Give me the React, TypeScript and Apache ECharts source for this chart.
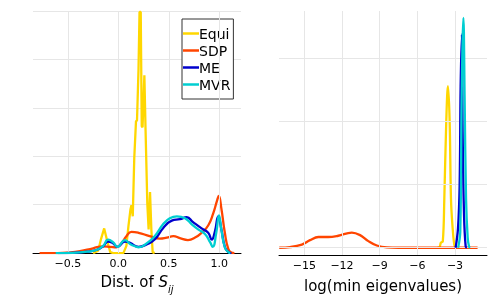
import React, { useEffect, useRef } from "react";
import * as echarts from "echarts";

// ---- Left panel: distribution of S_ij ----
const equiLX = [-0.25, -0.2, -0.17, -0.14, -0.11, -0.08, -0.05, 0.05, 0.08, 0.1, 0.12, 0.13, 0.143, 0.158, 0.175, 0.185, 0.2, 0.21, 0.222, 0.232, 0.24, 0.258, 0.27, 0.287, 0.3, 0.314, 0.327, 0.34, 0.36];
const equiLY = [0, 0.05, 0.3, 0.51, 0.25, 0.02, 0, 0, 0.15, 0.55, 0.9, 0.99, 0.76, 1.97, 2.72, 2.74, 3.8, 4.98, 4.98, 2.62, 2.6, 3.67, 2.52, 1.03, 0.49, 1.26, 0.49, 0.02, 0];
const sdpLX = [-0.78, -0.6, -0.5, -0.38, -0.25, -0.15, -0.08, -0.02, 0.03, 0.08, 0.13, 0.2, 0.31, 0.41, 0.48, 0.545, 0.61, 0.69, 0.76, 0.825, 0.89, 0.94, 0.98, 0.995, 1.02, 1.055, 1.09, 1.12, 1.15];
const sdpLY = [0, 0, 0.01, 0.04, 0.1, 0.14, 0.13, 0.12, 0.2, 0.35, 0.44, 0.42, 0.35, 0.3, 0.32, 0.35, 0.31, 0.27, 0.32, 0.42, 0.57, 0.82, 1.1, 1.18, 0.93, 0.42, 0.08, 0.01, 0];
const meLX = [-0.6, -0.45, -0.3, -0.21, -0.15, -0.1, -0.05, -0.01, 0.066, 0.116, 0.2, 0.28, 0.36, 0.445, 0.53, 0.61, 0.677, 0.74, 0.825, 0.89, 0.925, 0.957, 0.99, 1.02, 1.056, 1.09, 1.12];
const meLY = [0, 0.005, 0.03, 0.07, 0.14, 0.24, 0.2, 0.13, 0.24, 0.21, 0.13, 0.18, 0.28, 0.52, 0.67, 0.7, 0.74, 0.64, 0.51, 0.42, 0.28, 0.45, 0.76, 0.5, 0.12, 0.02, 0];
const mvrLX = [-0.62, -0.45, -0.3, -0.21, -0.15, -0.1, -0.05, -0.01, 0.066, 0.116, 0.18, 0.2, 0.28, 0.36, 0.445, 0.51, 0.58, 0.66, 0.73, 0.79, 0.86, 0.91, 0.935, 0.97, 0.997, 1.02, 1.056, 1.09, 1.11];
const mvrLY = [0, 0.005, 0.03, 0.07, 0.15, 0.28, 0.22, 0.13, 0.27, 0.19, 0.13, 0.12, 0.2, 0.35, 0.6, 0.72, 0.76, 0.72, 0.59, 0.49, 0.39, 0.22, 0.13, 0.42, 0.78, 0.49, 0.11, 0.02, 0];

// ---- Right panel: log(min eigenvalues) ----
const sdpRX = [-17.0, -16.14, -15.2, -14.55, -13.88, -13.1, -12.3, -11.22, -10.56, -9.9, -9.23, -8.43, -7.5, -1.2];
const sdpRY = [0, 0.01, 0.05, 0.12, 0.17, 0.17, 0.19, 0.24, 0.2, 0.105, 0.036, 0.005, 0, 0];
const equiRX = [-4.4, -4.23, -4.12, -3.97, -3.85, -3.69, -3.56, -3.43, -3.32, -3.21, -3.06, -2.95];
const equiRY = [0, 0.01, 0.08, 0.1, 0.78, 2.04, 2.56, 2.04, 0.78, 0.37, 0.05, 0];
const meRX = [-2.95, -2.76, -2.63, -2.55, -2.45, -2.39, -2.28, -2.15, -2.05];
const meRY = [0, 0.31, 0.99, 2.56, 3.38, 1.83, 0.52, 0.02, 0];
const mvrRX = [-2.75, -2.58, -2.47, -2.33, -2.23, -2.12, -1.99, -1.88, -1.8];
const mvrRY = [0, 0.25, 2.35, 3.64, 2.35, 0.78, 0.16, 0.02, 0];

const seriesNames = ["Equi", "SDP", "ME", "MVR"];
const seriesColors = ["#FFD700", "#FF4500", "#0000CD", "#00CED1"];
const leftTicks = [-0.5, 0, 0.5, 1.0];
const rightTicks = [-15, -12, -9, -6, -3];
const rightHGrid = [0, 1, 2, 3];

const zip = (xs: number[], ys: number[]) => xs.map((x, i) => [x, ys[i]]);
const FONT = "DejaVu Sans";
const GRIDC = "#e6e6e6";

const fmtL = (v: number) => (v < 0 ? "\u2212" : "") + Math.abs(v).toFixed(1);
const fmtR = (v: number) => (v < 0 ? "\u2212" : "") + Math.abs(v);

export default function App() {
  const ref = useRef<HTMLDivElement>(null);
  useEffect(() => {
    if (!ref.current) return;
    const chart = echarts.init(ref.current, null, { renderer: "svg" });
    const leftData = [zip(equiLX, equiLY), zip(sdpLX, sdpLY), zip(meLX, meLY), zip(mvrLX, mvrLY)];
    const rightData = [zip(equiRX, equiRY), zip(sdpRX, sdpRY), zip(meRX, meRY), zip(mvrRX, mvrRY)];
    const mk = (data: number[][], i: number, panel: number, smooth: any) => ({
      name: seriesNames[i],
      type: "line",
      xAxisIndex: panel,
      yAxisIndex: panel,
      data,
      showSymbol: false,
      symbol: "none",
      smooth,
      z: 3 + i,
      color: seriesColors[i],
      itemStyle: { color: seriesColors[i] },
      lineStyle: { color: seriesColors[i], width: 2.3 },
    });
    const xAxisCommon = (ticks: number[], fmt: (v: number) => string) => ({
      type: "value",
      axisLine: { show: true, onZero: false, lineStyle: { color: "#000", width: 1 } },
      axisTick: { show: true, inside: true, length: 5, customValues: ticks, lineStyle: { color: "#000", width: 1 } },
      axisLabel: { customValues: ticks, formatter: fmt, fontSize: 11, color: "#000", margin: 5, fontFamily: FONT },
      splitLine: { show: false },
      nameLocation: "middle",
    });
    const option: any = {
      animation: false,
      textStyle: { fontFamily: FONT },
      grid: [
        { left: 33, top: 11, width: 208, height: 246, containLabel: false },
        { left: 279, top: 11, width: 208, height: 246, containLabel: false },
      ],
      legend: {
        data: seriesNames,
        orient: "vertical",
        left: 182,
        top: 19,
        padding: [6, 3, 6, 1],
        itemGap: 0,
        itemWidth: 16,
        itemHeight: 2.5,
        icon: "rect",
        backgroundColor: "#fff",
        borderColor: "#333",
        borderWidth: 1,
        borderRadius: 0,
        textStyle: { fontSize: 14, color: "#000", fontFamily: FONT, lineHeight: 17, padding: [0, 0, 0, -5] },
      },
      xAxis: [
        {
          ...xAxisCommon(leftTicks, fmtL),
          gridIndex: 0,
          min: -0.845,
          max: 1.215,
          name: "{a|Dist. of }{s|S}{sub|ij}",
          nameGap: 14,
          nameTextStyle: {
            rich: {
              a: { fontSize: 15, fontFamily: FONT, color: "#000", lineHeight: 20, verticalAlign: "top" },
              s: { fontSize: 15, fontFamily: FONT, fontStyle: "italic", color: "#000", lineHeight: 20, verticalAlign: "top" },
              sub: { fontSize: 10, fontFamily: FONT, fontStyle: "italic", color: "#000", lineHeight: 8, verticalAlign: "bottom" },
            },
          },
        },
        {
          ...xAxisCommon(rightTicks, fmtR),
          gridIndex: 1,
          min: -17.02,
          max: -0.45,
          name: "log(min eigenvalues)",
          nameGap: 22,
          nameTextStyle: { fontSize: 15, fontFamily: FONT, color: "#000", lineHeight: 17 },
        },
      ],
      yAxis: [
        {
          type: "value",
          gridIndex: 0,
          min: 0,
          max: 5,
          interval: 1,
          axisLine: { show: false },
          axisTick: { show: false },
          axisLabel: { show: false },
          splitLine: { show: true, lineStyle: { color: GRIDC, width: 1 } },
        },
        {
          type: "value",
          gridIndex: 1,
          min: -0.115,
          max: 3.75,
          axisLine: { show: false },
          axisTick: { show: false },
          axisLabel: { show: false },
          splitLine: { show: false },
        },
      ],
      series: [
        {
          name: "gridL",
          type: "line",
          xAxisIndex: 0,
          yAxisIndex: 0,
          data: [],
          z: 1,
          markLine: {
            silent: true,
            symbol: ["none", "none"],
            label: { show: false },
            lineStyle: { color: GRIDC, type: "solid", width: 1 },
            data: leftTicks.map((v) => ({ xAxis: v })),
          },
        },
        {
          name: "gridR",
          type: "line",
          xAxisIndex: 1,
          yAxisIndex: 1,
          data: [],
          z: 1,
          markLine: {
            silent: true,
            symbol: ["none", "none"],
            label: { show: false },
            lineStyle: { color: GRIDC, type: "solid", width: 1 },
            data: [...rightTicks.map((v) => ({ xAxis: v })), ...rightHGrid.map((v) => ({ yAxis: v }))],
          },
        },
        ...leftData.map((d, i) => mk(d, i, 0, i === 0 ? false : 0.5)),
        ...rightData.map((d, i) => mk(d, i, 1, 0.4)),
      ],
    };
    chart.setOption(option);
    return () => chart.dispose();
  }, []);
  return <div ref={ref} style={{ position: "fixed", left: 0, top: 0, width: 498, height: 299 }} />;
}
